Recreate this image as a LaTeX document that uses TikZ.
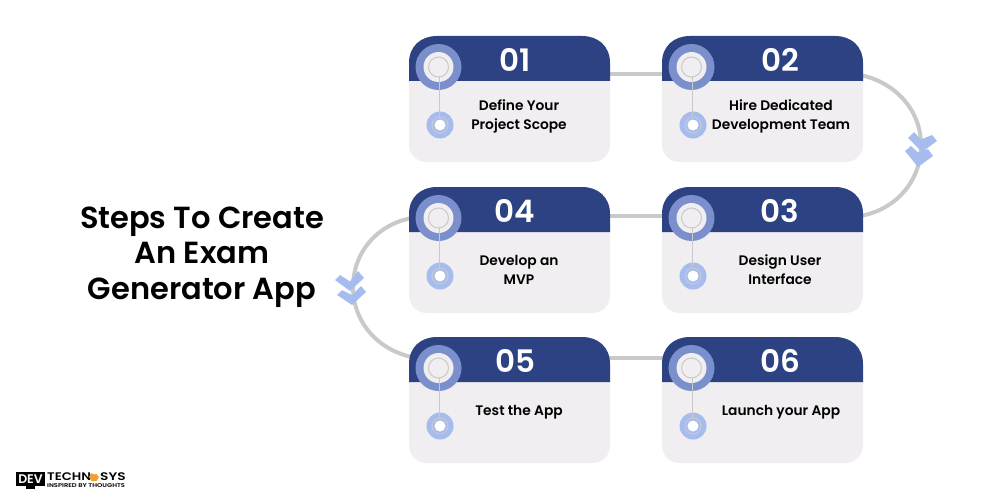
\documentclass[tikz,border=0pt]{standalone}
\usepackage{fontspec}
\setmainfont[BoldFont={Poppins SemiBold}]{Poppins}
\usetikzlibrary{calc}
\definecolor{headblue}{HTML}{2C4283}
\definecolor{ringblue}{HTML}{7A8FCB}
\definecolor{softblue}{HTML}{A6BCEF}
\definecolor{cardgrey}{HTML}{F0EEF0}
\definecolor{linegrey}{HTML}{C9C9C9}
\definecolor{logoorange}{HTML}{F0A030}
\tikzset{
  x=1pt,y=-1pt,
  cardbody/.style={fill=cardgrey},
  cardhead/.style={fill=headblue},
  linkline/.style={draw=linegrey,line width=4pt},
  stemline/.style={draw=linegrey,line width=1pt},
  chev/.style={fill=softblue},
  numtext/.style={text=white,font=\fontsize{31}{31}\selectfont\bfseries,anchor=center,inner sep=0pt},
  steptext/.style={text=black,font=\fontsize{13.8}{19.2}\selectfont\bfseries,align=center,anchor=center,inner sep=0pt},
  titletext/.style={text=black,font=\fontsize{30.5}{35.5}\selectfont\bfseries,align=center,anchor=center,inner sep=0pt},
}
\newcommand{\stepcard}[6]{% name, x, y, number, number x offset, text
  \begin{scope}[shift={(#2,#3)}]
    \path[cardbody] (0,40) -- (0,108) .. controls (0,119) and (8,126) .. (18,126) -- (183,126) .. controls (193,126) and (201,119) .. (201,108) -- (201,40) -- cycle;
    \path[cardhead] (0,45) -- (0,27) .. controls (0,10) and (12,0) .. (28,0) -- (173,0) .. controls (189,0) and (201,10) .. (201,27) -- (201,45) -- cycle;
    \fill[ringblue] (29.5,31) circle[radius=23];
    \fill[cardgrey] (29.5,31) circle[radius=15];
    \draw[stemline] (29.5,31) circle[radius=10];
    \fill[softblue] (31,89) circle[radius=13.5];
    \draw[stemline] (31,89) circle[radius=8];
    \fill[white] (31,89) circle[radius=5.5];
    \coordinate (#1-top) at (30,41);
    \coordinate (#1-bot) at (30,81);
    \draw[stemline] (#1-top) -- (#1-bot);
    \node[numtext] (#1-num) at (#5,24) {#4};
    \node[steptext] (#1-txt) at (#6;
  \end{scope}
}
\begin{document}
\begin{tikzpicture}
\useasboundingbox (0,0) rectangle (1000,500);
\fill[white] (0,0) rectangle (1000,500);

\coordinate (a1) at (605,74); \coordinate (a2) at (667,74);
\coordinate (b1) at (605,216); \coordinate (b2) at (667,216);
\coordinate (c1) at (605,358); \coordinate (c2) at (667,358);
\coordinate (r1) at (860,75); \coordinate (r2) at (860,216);
\coordinate (l1) at (412,218); \coordinate (l2) at (412,357);
\path[linkline] (a1) -- (a2);
\path[linkline] (b1) -- (b2);
\path[linkline] (c1) -- (c2);
\path[linkline] (r1) .. controls (895,82) and (921,110) .. (921,145) .. controls (921,182) and (895,210) .. (r2);
\path[linkline] (l1) .. controls (378,224) and (353,252) .. (353,287) .. controls (353,322) and (378,350) .. (l2);

\stepcard{s1}{409}{36}{01}{106}{110,80.5) {Define Your\\Project Scope}}
\stepcard{s2}{662}{36}{02}{118}{119,80.5) {Hire Dedicated\\Development Team}}
\stepcard{s3}{662}{187}{03}{118}{118,82.5) {Design User\\Interface}}
\stepcard{s4}{409}{187}{04}{106}{110,82.5) {Develop an\\MVP}}
\stepcard{s5}{409}{337}{05}{106}{110,75.5) {Test the App}}
\stepcard{s6}{662}{337}{06}{118}{119,75.5) {Launch your App}}

\path[chev] (908,138) -- (914,132) -- (921,139.5) -- (932,135) -- (937,141) -- (922,152) -- cycle;
\path[chev] (905,151) -- (911,146) -- (918,152.5) -- (928,149) -- (933,156) -- (918,167) -- cycle;
\path[chev] (335,280) -- (340,275) -- (350,281.5) -- (358,271) -- (364,278) -- (350,291) -- cycle;
\path[chev] (337,295) -- (342,290) -- (352,295) -- (361,286) -- (366,292) -- (352,305) -- cycle;

\node[titletext] (title) at (202,257) {Steps To Create\\An Exam\\Generator App};

% logo
\fill[black] (16,472) rectangle (45,486);
\fill[black] (26,486) rectangle (35,489);
\node[inner sep=0pt,text=white,font=\fontsize{12.5}{12}\selectfont\bfseries] (logodev) at (30.5,479.5) {DEV};
\node[inner sep=0pt,anchor=west,text=black,font=\fontsize{11}{11}\selectfont\bfseries] (logoa) at (47,477) {\scalebox{1.2}[1]{TECHN}};
\fill[logoorange] (94,474.5) -- (96.5,474) -- (99,477) -- (96.5,481) -- (91.5,481) -- (89,477) -- (91.5,473) -- cycle;
\node[inner sep=0pt,anchor=west,text=black,font=\fontsize{11}{11}\selectfont\bfseries] (logob) at (100,477) {\scalebox{1.25}[1]{SYS}};
\node[inner sep=0pt,anchor=west,text=black,font=\fontsize{5.5}{6}\selectfont\bfseries] (logoc) at (47,485.5) {\scalebox{1.22}[1]{INSPIRED BY THOUGHTS}};
\end{tikzpicture}
\end{document}
